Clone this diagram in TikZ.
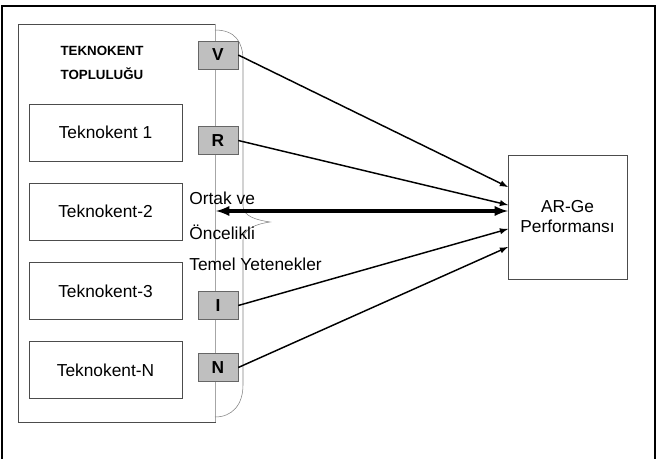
\documentclass[tikz,border=0pt]{standalone}
\usepackage{fontspec}
\setmainfont{Liberation Sans}
\usepackage {tikz}
\usetikzlibrary {positioning}

\begin{document}
\begin{tikzpicture}[x=0.75pt,y=-0.75pt,-latex,
    semithick ,
    every node/.style={font=\fontsize{13}{15}\selectfont},
    kutu/.style ={ rectangle ,draw=black!70 ,thin ,
    minimum width =153*0.75pt ,minimum height =57*0.75pt},
    harf/.style ={ rectangle ,fill=black!25 ,draw=black!60 ,thin ,
    minimum width =40*0.75pt ,minimum height =28*0.75pt ,font=\fontsize{13}{15}\selectfont\bfseries},
    ok/.style={-latex,line width=1.1pt},
    etiket/.style={anchor=west,inner sep=0pt}
    ]
    \useasboundingbox (0,0) rectangle (659,459);
    % dis cerceve
    \draw[-,line width=2.2pt] (2,470) -- (2,6) -- (655,6) -- (655,470);

    \node[draw=black!70,thin,minimum width=197*0.75pt,minimum height=398*0.75pt] (topluluk) at (116.5,223) {};
    \draw[-,black!35,thin] (topluluk.north east) -- (topluluk.south east);
    \node[align=center,font=\fontsize{10}{12}\selectfont\bfseries] at (102,62.5) {TEKNOKENT\\[6pt]TOPLULUĞU};

    \node[kutu] (T1) at (105.5,132.5) {Teknokent 1};
    \node[kutu] (T2) at (105.5,211.5) {Teknokent-2};
    \node[kutu] (T3) at (105.5,291) {Teknokent-3};
    \node[kutu] (TN) at (105.5,370) {Teknokent-N};

    % kume parantezi
    \draw[-,black!50,thin] (215,30) .. controls (235,30) and (243,42) .. (243,60) -- (243,206)
      .. controls (243,216) and (256,220) .. (270,222)
      .. controls (256,224) and (243,229) .. (243,240) -- (243,385)
      .. controls (243,405) and (232,417) .. (215,417);

    \node[harf] (V) at (218,55) {V};
    \node[harf] (R) at (218,140.5) {R};
    \node[harf] (I) at (218,305.5) {I};
    \node[harf] (N) at (218,367.5) {N};

    \node[draw=black!70,thin,align=center,minimum width=119*0.75pt,minimum height=124*0.75pt] (arge) at (567.5,217) {AR-Ge\\Performansı};

    \node[etiket] (ortak) at (189,198) {Ortak ve};
    \node[etiket] (oncelikli) at (189,232) {Öncelikli};
    \node[etiket] (temel) at (189,264) {Temel Yetenekler};

    \coordinate (gV) at (508,187);
    \coordinate (gR) at (508,205);
    \coordinate (gO) at (508,211);
    \coordinate (cO) at (216,211);
    \coordinate (gI) at (508,229);
    \coordinate (gN) at (508,247);

    \draw[ok] (V.east) -- (gV);
    \draw[ok] (R.east) -- (gR);
    \draw[latex-latex,line width=2.4pt] (cO) -- (gO);
    \draw[ok] (I.east) -- (gI);
    \draw[ok] (N.east) -- (gN);
\end{tikzpicture}
\end{document}
